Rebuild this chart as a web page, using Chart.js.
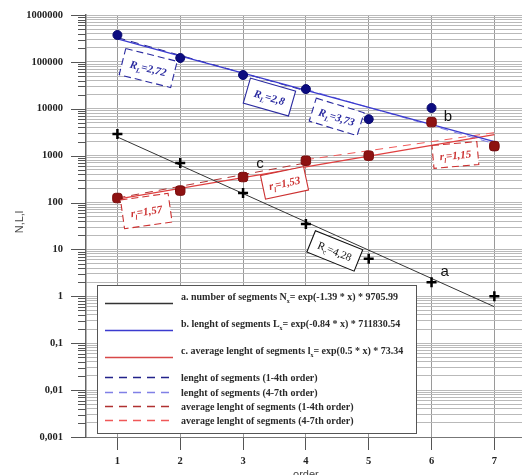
<!DOCTYPE html>
<html><head><meta charset="utf-8">
<script src="https://cdn.jsdelivr.net/npm/chart.js@4"></script>
<style>html,body{margin:0;padding:0;background:#fff;}canvas{display:block}</style>
</head><body>
<canvas id="c" width="522" height="475"></canvas>
<script>
// ---- data ----
const orders = [1, 2, 3, 4, 5, 6, 7];
const numberOfSegments = [2900, 700, 160, 35, 6.3, 2, 1];
const lengthOfSegments = [375000, 121000, 52500, 26300, 6000, 10400, 1600];
const averageLength = [125, 180, 350, 780, 1000, 5200, 1600];
// fitted lines (end points)
const fitOrders = [1, 7];
const fitN = [2500, 0.6];
const fitL = [310000, 2000];
const fitAvg = [118, 2800];
const fitOrders14 = [1, 4];
const fitOrders47 = [4, 7];
const fitL14 = [330000, 24000];
const fitL47 = [26000, 1800];
const fitAvg14 = [125, 700];
const fitAvg47 = [820, 3100];
// tick labels
const yTickValues = [0.001, 0.01, 0.1, 1, 10, 100, 1000, 10000, 100000, 1000000];
const yTickLabels = ["0,001", "0,01", "0,1", "1", "10", "100", "1000", "10000", "100000", "1000000"];
const xTickLabels = ["1", "2", "3", "4", "5", "6", "7"];
const xTitle = "order";
const yTitle = "N,L,l";
// legend texts
const legendItems = [
  {parts: [["a. number of segments N", 0], ["x", 1], ["= exp(-1.39 * x) * 9705.99", 0]], color: "#333333", dash: []},
  {parts: [["b. lenght of segments L", 0], ["x", 1], ["= exp(-0.84 * x) * 711830.54", 0]], color: "#3b3bcf", dash: []},
  {parts: [["c. average lenght of segments l", 0], ["x", 1], ["= exp(0.5 * x) * 73.34", 0]], color: "#d84848", dash: []},
  {parts: [["lenght of segments (1-4th order)", 0]], color: "#22228a", dash: [8, 6]},
  {parts: [["lenght of segments (4-7th order)", 0]], color: "#8080e6", dash: [8, 6]},
  {parts: [["average lenght of segments (1-4th order)", 0]], color: "#b03030", dash: [8, 6]},
  {parts: [["average lenght of segments (4-7th order)", 0]], color: "#f05858", dash: [8, 6]}
];
const ratioBoxes = [
  {x: 1.49, y: 74000, angle: 14, w: 53, h: 27, dashed: true, color: "#2a2aa0", main: "R", sub: "L", rest: "=2,72", italic: true},
  {x: 3.42, y: 17800, angle: 16, w: 47, h: 26, dashed: false, color: "#2a2aa0", main: "R", sub: "L", rest: "=2,8", italic: true},
  {x: 4.49, y: 6700, angle: 17, w: 50, h: 24, dashed: true, color: "#2a2aa0", main: "R", sub: "L", rest: "=3,73", italic: true},
  {x: 1.46, y: 66, angle: -8, w: 48, h: 29, dashed: true, color: "#cc3030", main: "r", sub: "l", rest: "=1,57", italic: true},
  {x: 3.66, y: 263, angle: -12, w: 44, h: 24, dashed: false, color: "#cc3030", main: "r", sub: "l", rest: "=1,53", italic: true},
  {x: 6.38, y: 1035, angle: -5, w: 45, h: 23, dashed: true, color: "#cc3030", main: "r", sub: "l", rest: "=1,15", italic: true},
  {x: 4.46, y: 9.3, angle: 22, w: 51, h: 23, dashed: false, color: "#111111", main: "R", sub: "c", rest: "=4,28", italic: false}
];
const curveLabels = [
  {text: "a", x: 6.21, y: 3.3},
  {text: "b", x: 6.26, y: 6700},
  {text: "c", x: 3.27, y: 665}
];

const pts = (xs, ys) => xs.map((v, i) => ({x: v, y: ys[i]}));
const SERIF = "'Liberation Serif','Times New Roman',serif";
const SANS = "'Liberation Sans',Arial,sans-serif";
const isMajor = v => Math.abs(Math.log10(v) - Math.round(Math.log10(v))) < 1e-6;

function lineDs(xs, ys, color, dash, width) {
  return {data: pts(xs, ys), showLine: true, borderColor: color, borderDash: dash, borderWidth: width,
          pointRadius: 0, pointHoverRadius: 0, fill: false, tension: 0};
}

function drawRich(ctx, parts, x, y, size, weight, align) {
  const fonts = parts.map(p => `${weight} ${p[1] ? Math.round(size * 0.62) : size}px ${SERIF}`);
  let total = 0;
  const widths = parts.map((p, i) => { ctx.font = fonts[i]; const w = ctx.measureText(p[0]).width; total += w; return w; });
  let cx = align === 'center' ? x - total / 2 : x;
  ctx.textAlign = 'left';
  ctx.textBaseline = 'alphabetic';
  parts.forEach((p, i) => {
    ctx.font = fonts[i];
    ctx.fillText(p[0], cx, y + (p[1] ? size * 0.28 : 0));
    cx += widths[i];
  });
}

const overlay = {
  id: 'overlay',
  afterDatasetsDraw(chart) {
    const ctx = chart.ctx, xs = chart.scales.x, ys = chart.scales.y;
    ctx.save();
    ratioBoxes.forEach(b => {
      const px = xs.getPixelForValue(b.x), py = ys.getPixelForValue(b.y);
      ctx.save();
      ctx.translate(px, py);
      ctx.rotate(b.angle * Math.PI / 180);
      ctx.fillStyle = '#ffffff';
      ctx.fillRect(-b.w / 2, -b.h / 2, b.w, b.h);
      ctx.strokeStyle = b.color;
      ctx.lineWidth = 1.1;
      ctx.setLineDash(b.dashed ? [7, 4] : []);
      ctx.strokeRect(-b.w / 2, -b.h / 2, b.w, b.h);
      ctx.setLineDash([]);
      ctx.fillStyle = b.color;
      const wt = b.italic ? 'italic bold' : 'normal';
      drawRich(ctx, [[b.main, 0], [b.sub, 1], [b.rest, 0]], 0, 4, 11, wt, 'center');
      ctx.restore();
    });
    ctx.fillStyle = '#111';
    ctx.font = `15px ${SANS}`;
    ctx.textAlign = 'center';
    ctx.textBaseline = 'middle';
    curveLabels.forEach(l => ctx.fillText(l.text, xs.getPixelForValue(l.x), ys.getPixelForValue(l.y)));
    ctx.restore();
  },
  afterDraw(chart) {
    const ctx = chart.ctx, ys = chart.scales.y, xs = chart.scales.x, area = chart.chartArea;
    ctx.save();
    ctx.strokeStyle = '#555';
    ctx.lineWidth = 1;
    ys.ticks.forEach(t => {
      const py = Math.round(ys.getPixelForValue(t.value)) + 0.5;
      ctx.beginPath();
      ctx.moveTo(area.left - (isMajor(t.value) ? 15 : 8), py);
      ctx.lineTo(area.left, py);
      ctx.stroke();
    });
    ctx.fillStyle = '#444';
    ctx.font = `11px ${SANS}`;
    ctx.textAlign = 'center';
    ctx.textBaseline = 'middle';
    ctx.save();
    ctx.translate(20, 222);
    ctx.rotate(-Math.PI / 2);
    ctx.fillText(yTitle, 0, 0);
    ctx.restore();
    ctx.textBaseline = 'top';
    ctx.fillText(xTitle, xs.getPixelForValue(4), 469);
    const L = 97, T = 285, R = 416, B = 433;
    ctx.fillStyle = '#fff';
    ctx.fillRect(L, T, R - L, B - T);
    ctx.strokeStyle = '#555';
    ctx.lineWidth = 1;
    ctx.strokeRect(L + 0.5, T + 0.5, R - L, B - T);
    const lineYs = [303, 330, 357, 377, 392, 406, 420];
    const textYs = [300, 327, 354, 381, 396, 410, 424];
    legendItems.forEach((it, i) => {
      ctx.strokeStyle = it.color;
      ctx.lineWidth = 1.3;
      ctx.setLineDash(it.dash);
      ctx.beginPath();
      ctx.moveTo(105, lineYs[i] + 0.5);
      ctx.lineTo(173, lineYs[i] + 0.5);
      ctx.stroke();
      ctx.setLineDash([]);
      ctx.fillStyle = '#2a2a2a';
      drawRich(ctx, it.parts, 181, textYs[i], 10, 'bold', 'left');
    });
    ctx.restore();
  }
};

new Chart(document.getElementById('c'), {
  type: 'scatter',
  data: {
    datasets: [
      {data: pts(orders, numberOfSegments), pointStyle: 'cross', pointRadius: 5, borderWidth: 2.5, borderColor: '#000', backgroundColor: '#000'},
      {data: pts(orders, averageLength), pointStyle: 'rectRounded', pointRadius: 5.5, borderWidth: 1, borderColor: '#7a0c0c', backgroundColor: '#8e1212'},
      {data: pts(orders, lengthOfSegments), pointStyle: 'circle', pointRadius: 4.5, borderWidth: 1, borderColor: '#08086e', backgroundColor: '#0c0c80'},
      lineDs(fitOrders, fitN, '#333333', [], 1),
      lineDs(fitOrders, fitL, '#3b3bcf', [], 1.3),
      lineDs(fitOrders, fitAvg, '#e04040', [], 1.3),
      lineDs(fitOrders14, fitL14, '#22228a', [8, 6], 1),
      lineDs(fitOrders47, fitL47, '#8080e6', [8, 6], 1),
      lineDs(fitOrders14, fitAvg14, '#b03030', [8, 6], 1),
      lineDs(fitOrders47, fitAvg47, '#f05858', [8, 6], 1)
    ]
  },
  options: {
    responsive: false,
    animation: false,
    devicePixelRatio: 1,
    layout: {autoPadding: false, padding: {left: 0, right: 0, top: 15, bottom: 0}},
    plugins: {legend: {display: false}, tooltip: {enabled: false}},
    events: [],
    scales: {
      x: {
        type: 'linear', min: 0.5, max: 7.44,
        afterBuildTicks: s => { s.ticks = orders.map(v => ({value: v})); },
        afterFit: s => { s.height = 38; s.paddingLeft = 0; s.paddingRight = 0; },
        ticks: {autoSkip: false, maxRotation: 0, padding: 5, color: '#222',
                font: {family: SERIF, size: 10.5, weight: 'bold'},
                callback: (v) => xTickLabels[orders.indexOf(v)] ?? ''},
        grid: {color: '#9a9a9a', lineWidth: 1, drawTicks: true, tickLength: 13, tickColor: '#555'},
        border: {display: true, color: '#777', width: 1}
      },
      y: {
        type: 'logarithmic', min: 0.001, max: 1000000,
        afterBuildTicks: s => {
          const t = [];
          yTickValues.forEach((v, i) => {
            t.push({value: v, major: true});
            if (i < yTickValues.length - 1) for (let k = 2; k <= 9; k++) t.push({value: v * k});
          });
          s.ticks = t;
        },
        afterFit: s => { s.width = 86; s.paddingTop = 0; s.paddingBottom = 0; },
        ticks: {autoSkip: false, padding: 23, color: '#222',
                font: {family: SERIF, size: 10.5, weight: 'bold'},
                callback: (v) => { const i = yTickValues.findIndex(m => Math.abs(m - v) / m < 1e-6); return i >= 0 ? yTickLabels[i] : ''; }},
        grid: {color: '#b9b9b9', lineWidth: 1, drawTicks: false},
        border: {display: true, color: '#666', width: 1.5}
      }
    }
  },
  plugins: [overlay]
});
</script>
</body></html>
